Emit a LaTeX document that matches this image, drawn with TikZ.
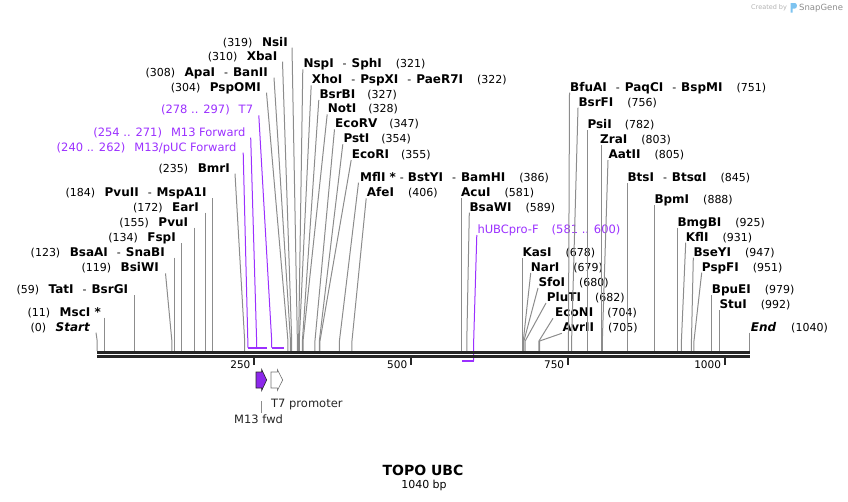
\documentclass[tikz,border=0pt]{standalone}
\usepackage{fontspec}
\setmainfont{DejaVu Sans}
\definecolor{primer}{RGB}{155,48,255}
\definecolor{primerfill}{RGB}{140,40,235}
\definecolor{siteline}{RGB}{140,140,140}
\definecolor{mapbar}{RGB}{38,38,38}
\definecolor{snapblue}{RGB}{125,195,240}
\newcommand{\enz}[1]{{\fontsize{12}{14}\selectfont\bfseries #1}}
\newcommand{\dsh}{\hspace{9pt}-\hspace{5pt}}
\begin{document}
\begin{tikzpicture}[x=1pt,y=-1pt,
	lbl/.style={inner sep=0pt, font=\fontsize{11}{13}\selectfont},
	plbl/.style={inner sep=0pt, text=primer, font=\fontsize{11.5}{13}\selectfont},
	siteln/.style={draw=siteline, line width=1pt},
	primerln/.style={draw=primer, line width=1pt},
	primerbar/.style={draw=primer, line width=2pt},
	mapline/.style={draw=mapbar, line width=3pt},
	tickln/.style={draw=mapbar, line width=1.8pt}]
	\useasboundingbox (0,0) rectangle (848,501);

	% sites on the map (bp units)
	\begin{scope}[shift={(97.2,0)}, x=0.6275pt]
		\coordinate (start-s) at (0,351);
		\coordinate (msc-s) at (11,351);
		\coordinate (tat-s) at (59,351);
		\coordinate (bsiw-s) at (119,351);
		\coordinate (bsaa-s) at (123,351);
		\coordinate (fsp-s) at (134,351);
		\coordinate (pvui-s) at (155,351);
		\coordinate (ear-s) at (172,351);
		\coordinate (pvuii-s) at (184,351);
		\coordinate (bmr-s) at (235,351);
		\coordinate (pspomi-s) at (304,351);
		\coordinate (apa-s) at (308,351);
		\coordinate (xba-s) at (310,351);
		\coordinate (nsi-s) at (319,351);
		\coordinate (nsp-s) at (321,351);
		\coordinate (xho-s) at (322,351);
		\coordinate (bsrb-s) at (327,351);
		\coordinate (not-s) at (328,351);
		\coordinate (ecorv-s) at (347,351);
		\coordinate (pst-s) at (354,351);
		\coordinate (ecori-s) at (355,351);
		\coordinate (mfl-s) at (386,351);
		\coordinate (afe-s) at (406,351);
		\coordinate (acu-s) at (581,351);
		\coordinate (bsaw-s) at (589,351);
		\coordinate (kas-s) at (678,351);
		\coordinate (nar-s) at (679,351);
		\coordinate (sfo-s) at (680,351);
		\coordinate (plut-s) at (682,351);
		\coordinate (econ-s) at (704,351);
		\coordinate (avr-s) at (705,351);
		\coordinate (bfua-s) at (751,351);
		\coordinate (bsrf-s) at (756,351);
		\coordinate (psi-s) at (782,351);
		\coordinate (zra-s) at (803,351);
		\coordinate (aat-s) at (805,351);
		\coordinate (bts-s) at (845,351);
		\coordinate (bpm-s) at (888,351);
		\coordinate (bmgb-s) at (925,351);
		\coordinate (kfl-s) at (931,351);
		\coordinate (bsey-s) at (947,351);
		\coordinate (pspf-s) at (951,351);
		\coordinate (bpue-s) at (979,351);
		\coordinate (stu-s) at (992,351);
		\coordinate (end-s) at (1040,351);
		% primers
		\coordinate (m13puc-s) at (240,347.5);
		\coordinate (m13puc-e) at (262,347.5);
		\coordinate (m13f-s) at (254,347.5);
		\coordinate (m13f-e) at (271,347.5);
		\coordinate (t7-s) at (278,347.5);
		\coordinate (t7-e) at (297,347.5);
		\coordinate (hubc-s) at (581,360.5);
		\coordinate (hubc-e) at (600,360.5);
		% ruler
		\coordinate (bar-l) at (0,352.5);
		\coordinate (bar-r) at (1040,352.5);
		\coordinate (tk250) at (250,358);
		\coordinate (tk500) at (500,358);
		\coordinate (tk750) at (750,358);
		\coordinate (tk1000) at (1000,358);
	\end{scope}

	% labels left of their sites
	\node[lbl, anchor=base east] (nsi) at (288,46.2) {(319)\hspace{9.5pt}\enz{NsiI}};
	\node[lbl, anchor=base east] (xba) at (277.5,60.2) {(310)\hspace{9.5pt}\enz{XbaI}};
	\node[lbl, anchor=base east] (apa) at (268,76.2) {(308)\hspace{9.5pt}\enz{ApaI}\dsh\enz{BanII}};
	\node[lbl, anchor=base east] (pspomi) at (261,91.2) {(304)\hspace{9.5pt}\enz{PspOMI}};
	\node[plbl, anchor=base east] (t7) at (253.3,113.8) {(278 .. 297)\hspace{9pt}T7};
	\node[plbl, anchor=base east] (m13f) at (245.7,136.2) {(254 .. 271)\hspace{9pt}M13 Forward};
	\node[plbl, anchor=base east] (m13puc) at (236.7,151.2) {(240 .. 262)\hspace{9pt}M13/pUC Forward};
	\node[lbl, anchor=base east] (bmr) at (230,172.2) {(235)\hspace{9.5pt}\enz{BmrI}};
	\node[lbl, anchor=base east] (pvuii) at (206.7,196.8) {(184)\hspace{9.5pt}\enz{PvuII}\dsh\enz{MspA1I}};
	\node[lbl, anchor=base east] (ear) at (199,211.2) {(172)\hspace{9.5pt}\enz{EarI}};
	\node[lbl, anchor=base east] (pvui) at (188.3,226.2) {(155)\hspace{9.5pt}\enz{PvuI}};
	\node[lbl, anchor=base east] (fsp) at (176,241.8) {(134)\hspace{9.5pt}\enz{FspI}};
	\node[lbl, anchor=base east] (bsaa) at (165,256.2) {(123)\hspace{9.5pt}\enz{BsaAI}\dsh\enz{SnaBI}};
	\node[lbl, anchor=base east] (bsiw) at (159,271.8) {(119)\hspace{9.5pt}\enz{BsiWI}};
	\node[lbl, anchor=base east] (tat) at (128.3,293.5) {(59)\hspace{9.5pt}\enz{TatI}\dsh\enz{BsrGI}};
	\node[lbl, anchor=base east] (msc) at (101,316.2) {(11)\hspace{9.5pt}\enz{MscI *}};
	\node[lbl, anchor=base east] (start) at (90,331.2) {(0)\hspace{9.5pt}\enz{\itshape Start}};

	% labels right of their sites
	\node[lbl, anchor=base west] (nsp) at (303.3,67.8) {\enz{NspI}\dsh\enz{SphI}\hspace{14pt}(321)};
	\node[lbl, anchor=base west] (xho) at (311.7,83.8) {\enz{XhoI}\dsh\enz{PspXI}\dsh\enz{PaeR7I}\hspace{14pt}(322)};
	\node[lbl, anchor=base west] (bsrb) at (319.3,98.5) {\enz{BsrBI}\hspace{12pt}(327)};
	\node[lbl, anchor=base west] (not) at (327.7,112.8) {\enz{NotI}\hspace{12pt}(328)};
	\node[lbl, anchor=base west] (ecorv) at (335,127.8) {\enz{EcoRV}\hspace{12pt}(347)};
	\node[lbl, anchor=base west] (pst) at (343.3,142.8) {\enz{PstI}\hspace{12pt}(354)};
	\node[lbl, anchor=base west] (ecori) at (351.7,158.5) {\enz{EcoRI}\hspace{12pt}(355)};
	\node[lbl, anchor=base west] (mfl) at (360,181.2) {\enz{MflI *}\hspace{4pt}-\hspace{4pt}\enz{BstYI}\dsh\enz{BamHI}\hspace{14pt}(386)};
	\node[lbl, anchor=base west] (afe) at (366.7,196.8) {\enz{AfeI}\hspace{14pt}(406)};
	\node[lbl, anchor=base west] (acu) at (461,196.8) {\enz{AcuI}\hspace{14pt}(581)};
	\node[lbl, anchor=base west] (bsaw) at (469.3,211.2) {\enz{BsaWI}\hspace{14pt}(589)};
	\node[plbl, anchor=base west] (hubc) at (477.3,233.5) {hUBCpro-F\hspace{13pt}(581 .. 600)};
	\node[lbl, anchor=base west] (kas) at (522.3,256.5) {\enz{KasI}\hspace{14pt}(678)};
	\node[lbl, anchor=base west] (nar) at (530.7,271.5) {\enz{NarI}\hspace{14pt}(679)};
	\node[lbl, anchor=base west] (sfo) at (538.3,286.5) {\enz{SfoI}\hspace{14pt}(680)};
	\node[lbl, anchor=base west] (plut) at (546.7,301.5) {\enz{PluTI}\hspace{14pt}(682)};
	\node[lbl, anchor=base west] (econ) at (555,316.8) {\enz{EcoNI}\hspace{14pt}(704)};
	\node[lbl, anchor=base west] (avr) at (562.3,331.8) {\enz{AvrII}\hspace{14pt}(705)};
	\node[lbl, anchor=base west] (bfua) at (570,91.2) {\enz{BfuAI}\dsh\enz{PaqCI}\dsh\enz{BspMI}\hspace{14pt}(751)};
	\node[lbl, anchor=base west] (bsrf) at (578.3,106.2) {\enz{BsrFI}\hspace{14pt}(756)};
	\node[lbl, anchor=base west] (psi) at (587.3,128.5) {\enz{PsiI}\hspace{13pt}(782)};
	\node[lbl, anchor=base west] (zra) at (600,143.5) {\enz{ZraI}\hspace{14pt}(803)};
	\node[lbl, anchor=base west] (aat) at (608.3,158.5) {\enz{AatII}\hspace{14pt}(805)};
	\node[lbl, anchor=base west] (bts) at (627.3,181.8) {\enz{BtsI}\dsh\enz{BtsαI}\hspace{14pt}(845)};
	\node[lbl, anchor=base west] (bpm) at (654.3,203.5) {\enz{BpmI}\hspace{14pt}(888)};
	\node[lbl, anchor=base west] (bmgb) at (677.3,226.2) {\enz{BmgBI}\hspace{14pt}(925)};
	\node[lbl, anchor=base west] (kfl) at (685.7,241.2) {\enz{KflI}\hspace{14pt}(931)};
	\node[lbl, anchor=base west] (bsey) at (693.3,256.2) {\enz{BseYI}\hspace{14pt}(947)};
	\node[lbl, anchor=base west] (pspf) at (701.7,271.2) {\enz{PspFI}\hspace{14pt}(951)};
	\node[lbl, anchor=base west] (bpue) at (711.7,293.5) {\enz{BpuEI}\hspace{14pt}(979)};
	\node[lbl, anchor=base west] (stu) at (719.3,308.5) {\enz{StuI}\hspace{14pt}(992)};
	\node[lbl, anchor=base west] (end) at (750.7,331.2) {\enz{\itshape End}\hspace{15pt}(1040)};

	% connectors, left labels
	\draw[siteln] ([xshift=4pt,yshift=-1.5pt]nsi.base east) -- ([yshift=10pt]nsi-s) -- (nsi-s);
	\draw[siteln] ([xshift=5pt,yshift=-1.5pt]xba.base east) -- ([yshift=10pt]xba-s) -- (xba-s);
	\draw[siteln] ([xshift=6pt,yshift=-1.5pt]apa.base east) -- ([yshift=10pt]apa-s) -- (apa-s);
	\draw[siteln] ([xshift=5.5pt,yshift=-1.5pt]pspomi.base east) -- ([yshift=10pt]pspomi-s) -- (pspomi-s);
	\draw[siteln] ([xshift=5pt,yshift=-1.5pt]bmr.base east) -- ([yshift=10pt]bmr-s) -- (bmr-s);
	\draw[siteln] ([yshift=-1.5pt]pvuii.base east -| pvuii-s) -- (pvuii-s);
	\draw[siteln] ([yshift=-1.5pt]ear.base east -| ear-s) -- (ear-s);
	\draw[siteln] ([yshift=-1.5pt]pvui.base east -| pvui-s) -- (pvui-s);
	\draw[siteln] ([yshift=-1.5pt]fsp.base east -| fsp-s) -- (fsp-s);
	\draw[siteln] ([yshift=-1.5pt]bsaa.base east -| bsaa-s) -- (bsaa-s);
	\draw[siteln] ([xshift=6.5pt,yshift=-1.5pt]bsiw.base east) -- ([yshift=10pt]bsiw-s) -- (bsiw-s);
	\draw[siteln] ([yshift=-1.5pt]tat.base east -| tat-s) -- (tat-s);
	\draw[siteln] ([yshift=-1.5pt]msc.base east -| msc-s) -- (msc-s);
	\draw[siteln] ([xshift=6pt,yshift=-1.5pt]start.base east) -- ([yshift=10pt]start-s) -- (start-s);

	% connectors, right labels
	\draw[siteln] ([xshift=-0.5pt,yshift=-1.5pt]nsp.base west) -- ([yshift=10pt]nsp-s) -- (nsp-s);
	\draw[siteln] ([xshift=-0.5pt,yshift=-1.5pt]xho.base west) -- ([yshift=10pt]xho-s) -- (xho-s);
	\draw[siteln] ([xshift=-0.5pt,yshift=-1.5pt]bsrb.base west) -- ([yshift=10pt]bsrb-s) -- (bsrb-s);
	\draw[siteln] ([xshift=-0.5pt,yshift=-1.5pt]not.base west) -- ([yshift=10pt]not-s) -- (not-s);
	\draw[siteln] ([xshift=-0.5pt,yshift=-1.5pt]ecorv.base west) -- ([yshift=10pt]ecorv-s) -- (ecorv-s);
	\draw[siteln] ([xshift=-0.5pt,yshift=-1.5pt]pst.base west) -- ([yshift=10pt]pst-s) -- (pst-s);
	\draw[siteln] ([xshift=-0.5pt,yshift=-1.5pt]ecori.base west) -- ([yshift=10pt]ecori-s) -- (ecori-s);
	\draw[siteln] ([xshift=-1.5pt,yshift=-1.5pt]mfl.base west) -- ([yshift=10pt]mfl-s) -- (mfl-s);
	\draw[siteln] ([xshift=-0.5pt,yshift=-1.5pt]afe.base west) -- ([yshift=10pt]afe-s) -- (afe-s);
	\draw[siteln] ([yshift=-1.5pt]acu.base west -| acu-s) -- (acu-s);
	\draw[siteln] ([yshift=-1.5pt]bsaw.base west) -- ([yshift=10pt]bsaw-s) -- (bsaw-s);
	\draw[siteln] ([yshift=-1.5pt]kas.base west -| kas-s) -- (kas-s);
	\draw[siteln] ([yshift=-1.5pt]nar.base west) -- ([yshift=10pt]nar-s) -- (nar-s);
	\draw[siteln] ([xshift=-0.3pt,yshift=-1.5pt]sfo.base west) -- ([yshift=10pt]sfo-s) -- (sfo-s);
	\draw[siteln] ([xshift=-0.7pt,yshift=-1.5pt]plut.base west) -- ([yshift=10pt]plut-s) -- (plut-s);
	\draw[siteln] ([xshift=-2pt,yshift=-1.5pt]econ.base west) -- ([yshift=10pt]econ-s) -- (econ-s);
	\draw[siteln] ([xshift=-0.5pt,yshift=-1.5pt]avr.base west) -- ([yshift=10pt]avr-s) -- (avr-s);
	\draw[siteln] ([xshift=-0.5pt,yshift=-1.5pt]bfua.base west) -- ([yshift=10pt]bfua-s) -- (bfua-s);
	\draw[siteln] ([xshift=-0.3pt,yshift=-1.5pt]bsrf.base west) -- ([yshift=10pt]bsrf-s) -- (bsrf-s);
	\draw[siteln] ([yshift=-1.5pt]psi.base west -| psi-s) -- (psi-s);
	\draw[siteln] ([yshift=-1.5pt]zra.base west -| zra-s) -- (zra-s);
	\draw[siteln] ([xshift=-0.3pt,yshift=-1.5pt]aat.base west) -- ([yshift=10pt]aat-s) -- (aat-s);
	\draw[siteln] ([yshift=-1.5pt]bts.base west -| bts-s) -- (bts-s);
	\draw[siteln] ([yshift=-1.5pt]bpm.base west -| bpm-s) -- (bpm-s);
	\draw[siteln] ([yshift=-1.5pt]bmgb.base west -| bmgb-s) -- (bmgb-s);
	\draw[siteln] ([yshift=-1.5pt]kfl.base west) -- ([yshift=10pt]kfl-s) -- (kfl-s);
	\draw[siteln] ([yshift=-1.5pt]bsey.base west) -- ([yshift=10pt]bsey-s) -- (bsey-s);
	\draw[siteln] ([yshift=-1.5pt]pspf.base west) -- ([yshift=10pt]pspf-s) -- (pspf-s);
	\draw[siteln] ([yshift=-1.5pt]bpue.base west -| bpue-s) -- (bpue-s);
	\draw[siteln] ([yshift=-1.5pt]stu.base west -| stu-s) -- (stu-s);
	\draw[siteln] ([yshift=-1.5pt]end.base west -| end-s) -- (end-s);

	% primers
	\draw[primerln] ([xshift=5.5pt,yshift=-1.5pt]t7.base east) -- ([yshift=7.5pt]t7-s) -- (t7-s);
	\draw[primerln] ([xshift=5pt,yshift=-1.5pt]m13f.base east) -- ([yshift=7.5pt]m13f-s) -- (m13f-s);
	\draw[primerln] ([xshift=6.5pt,yshift=-1.5pt]m13puc.base east) -- ([yshift=7.5pt]m13puc-s) -- (m13puc-s);
	\draw[primerbar] (m13puc-s) -- (m13puc-e);
	\draw[primerbar] (m13f-s) -- (m13f-e);
	\draw[primerbar] (t7-s) -- (t7-e);
	\draw[primerln] ([xshift=-0.5pt,yshift=-1.5pt]hubc.base west) -- ([yshift=20.5pt]hubc-e) -- (hubc-e);
	\draw[primerbar] (hubc-e) -- (hubc-s);

	% map and ruler
	\draw[mapline] (bar-l) -- (bar-r);
	\draw[mapline] ([yshift=-4pt]bar-l) -- ([yshift=-4pt]bar-r);
	\draw[tickln] (tk250) -- ++(0,7);
	\draw[tickln] (tk500) -- ++(0,7);
	\draw[tickln] (tk750) -- ++(0,7);
	\draw[tickln] (tk1000) -- ++(0,7);
	\node[lbl, font=\fontsize{10.5}{12}\selectfont, anchor=base east] (n250) at ([xshift=-3.5pt,yshift=-10pt]tk250) {250};
	\node[lbl, font=\fontsize{10.5}{12}\selectfont, anchor=base east] (n500) at ([xshift=-3.5pt,yshift=-10pt]tk500) {500};
	\node[lbl, font=\fontsize{10.5}{12}\selectfont, anchor=base east] (n750) at ([xshift=-3.5pt,yshift=-10pt]tk750) {750};
	\node[lbl, font=\fontsize{10.5}{12}\selectfont, anchor=base east] (n1000) at ([xshift=-3.5pt,yshift=-10pt]tk1000) {1000};

	% features
	\draw[black!85, fill=primerfill, line width=0.6pt] (256,372) -- (261.7,372) -- (261.7,369.5) -- (266.7,380) -- (261.7,390.5) -- (261.7,388) -- (256,388) -- cycle;
	\draw[black!55, fill=white, line width=0.6pt] (271,372) -- (277.3,372) -- (277.3,369.5) -- (282.7,380) -- (277.3,390.5) -- (277.3,388) -- (271,388) -- cycle;
	\node[lbl, font=\fontsize{11.5}{13}\selectfont, text=black!85, anchor=base west] (t7lab) at (271,407.6) {T7 promoter};
	\node[lbl, font=\fontsize{11.5}{13}\selectfont, text=black!85, anchor=base west] (m13lab) at (234,423.6) {M13 fwd};
	\coordinate (m13stem) at (261,401);
	\draw[siteln] (m13stem) -- ([yshift=2pt]m13stem |- m13lab.north);

	% title
	\node[inner sep=0pt, font=\fontsize{14}{16}\selectfont\bfseries] (title) at (423,470) {TOPO UBC};
	\node[lbl, anchor=base] (size) at (424,488) {1040 bp};

	% logo
	\node[inner sep=0pt, font=\fontsize{6.5}{8}\selectfont, text=black!30, anchor=base west] (made) at (751,9.5) {Created by};
	\fill[snapblue] (790.5,3) -- (795,3) .. controls (797.5,3) and (797.5,8.5) .. (795,8.5) -- (792.5,8.5) -- (792.5,12.5) -- (790.5,12.5) -- cycle;
	\node[inner sep=0pt, font=\fontsize{8.5}{10}\selectfont, text=black!45, anchor=base west] (snap) at (799,10.5) {SnapGene};
\end{tikzpicture}
\end{document}
